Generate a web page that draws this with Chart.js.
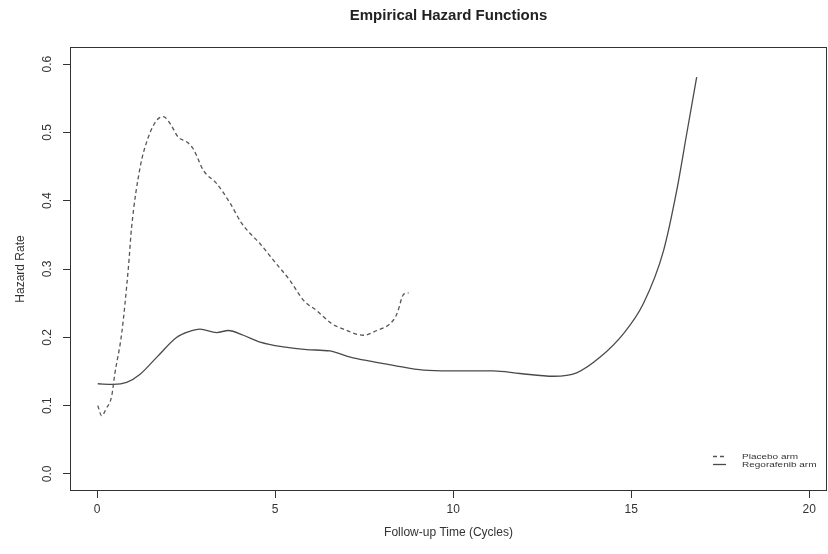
<!DOCTYPE html>
<html>
<head>
<meta charset="utf-8">
<title>Empirical Hazard Functions</title>
<script src="https://cdn.jsdelivr.net/npm/chart.js@4/dist/chart.umd.min.js"></script>
<style>
  body { margin: 0; background: #fff; }
  canvas { display: block; }
</style>
</head>
<body>
<canvas id="hazardChart" width="828" height="554"></canvas>
<script>
// follow-up time (cycles) and smoothed hazard rate, one pair of arrays per arm
const placeboTime = [0.02, 0.13, 0.25, 0.41, 0.5, 0.69, 0.88, 0.97, 1.21, 1.44, 1.68, 1.86, 2.05, 2.28, 2.52, 2.7, 2.99, 3.36, 3.74, 4.06, 4.3, 4.58, 4.95, 5.42, 5.8, 6.17, 6.59, 6.92, 7.48, 7.86, 8.23, 8.42, 8.61, 8.75];
const placeboHazard = [0.100, 0.085, 0.095, 0.114, 0.147, 0.205, 0.302, 0.361, 0.449, 0.493, 0.518, 0.523, 0.513, 0.493, 0.486, 0.476, 0.444, 0.425, 0.396, 0.367, 0.352, 0.337, 0.313, 0.283, 0.254, 0.239, 0.220, 0.212, 0.203, 0.210, 0.220, 0.234, 0.263, 0.265];

const regoTime = [0.02, 0.46, 0.83, 1.21, 1.68, 2.24, 2.56, 2.89, 3.36, 3.69, 4.11, 4.58, 5.23, 5.89, 6.54, 7.11, 7.67, 8.32, 9.17, 9.92, 11.13, 11.88, 12.82, 13.47, 14.13, 14.78, 15.34, 15.91, 16.28, 16.56, 16.84];
const regoHazard = [0.132, 0.131, 0.134, 0.146, 0.171, 0.200, 0.208, 0.212, 0.207, 0.210, 0.203, 0.193, 0.186, 0.182, 0.180, 0.171, 0.165, 0.159, 0.152, 0.151, 0.151, 0.147, 0.143, 0.148, 0.171, 0.205, 0.249, 0.327, 0.415, 0.498, 0.581];

const xTicks = [0, 5, 10, 15, 20];
const yTicks = [0, 0.1, 0.2, 0.3, 0.4, 0.5, 0.6];

const FONT = '"Liberation Sans", Arial, sans-serif';
const INK = '#333';

const toPoints = (xs, ys) => xs.map((x, i) => ({ x, y: ys[i] }));

// box, tick labels, titles and the in-plot legend
const hazardText = {
  id: 'hazardText',
  afterDraw(chart) {
    const { ctx, chartArea: a, scales: { x, y } } = chart;
    ctx.save();
    ctx.strokeStyle = INK;
    ctx.lineWidth = 1;
    ctx.strokeRect(a.left + 0.5, a.top + 0.5, a.right - a.left - 1, a.bottom - a.top - 1);

    ctx.fillStyle = INK;
    ctx.font = '12px ' + FONT;
    ctx.textAlign = 'center';
    ctx.textBaseline = 'top';
    xTicks.forEach(v => ctx.fillText(String(v), x.getPixelForValue(v), a.bottom + 13));

    ctx.textBaseline = 'alphabetic';
    yTicks.forEach(v => {
      ctx.save();
      ctx.translate(a.left - 19, y.getPixelForValue(v));
      ctx.rotate(-Math.PI / 2);
      ctx.fillText(v.toFixed(1), 0, 0);
      ctx.restore();
    });

    ctx.save();
    ctx.translate(24, (a.top + a.bottom) / 2);
    ctx.rotate(-Math.PI / 2);
    ctx.fillText('Hazard Rate', 0, 0);
    ctx.restore();

    ctx.textBaseline = 'middle';
    ctx.fillText('Follow-up Time (Cycles)', (a.left + a.right) / 2, 533);

    ctx.fillStyle = '#222';
    ctx.font = 'bold 15px ' + FONT;
    ctx.fillText('Empirical Hazard Functions', (a.left + a.right) / 2, 16);

    // legend entries take their stroke style from the datasets;
    // the labels are squeezed vertically so the two rows sit close together
    ctx.font = '10px ' + FONT;
    ctx.textAlign = 'left';
    chart.data.datasets.forEach((ds, i) => {
      const ly = 456.5 + i * 8;
      ctx.strokeStyle = ds.borderColor;
      ctx.lineWidth = ds.borderWidth;
      ctx.setLineDash(ds.borderDash || []);
      ctx.beginPath();
      ctx.moveTo(713, ly);
      ctx.lineTo(726, ly);
      ctx.stroke();
      ctx.setLineDash([]);
      ctx.save();
      ctx.translate(742, ly);
      ctx.scale(1, 0.78);
      ctx.fillStyle = INK;
      ctx.fillText(ds.label, 0, 0);
      ctx.restore();
    });
    ctx.restore();
  }
};

new Chart(document.getElementById('hazardChart'), {
  type: 'line',
  data: {
    datasets: [
      {
        label: 'Placebo arm',
        data: toPoints(placeboTime, placeboHazard),
        borderColor: '#555',
        borderWidth: 1.3,
        borderDash: [4, 3],
        pointRadius: 0,
        cubicInterpolationMode: 'monotone',
        fill: false
      },
      {
        label: 'Regorafenib arm',
        data: toPoints(regoTime, regoHazard),
        borderColor: '#4a4a4a',
        borderWidth: 1.3,
        pointRadius: 0,
        cubicInterpolationMode: 'monotone',
        fill: false
      }
    ]
  },
  options: {
    responsive: false,
    animation: false,
    layout: { padding: { top: 47, right: 1, left: 0, bottom: 0 } },
    plugins: { legend: { display: false }, tooltip: { enabled: false }, title: { display: false } },
    scales: {
      x: {
        type: 'linear',
        min: -0.76,
        max: 20.5,
        afterBuildTicks: s => { s.ticks = xTicks.map(value => ({ value })); },
        afterFit: s => { s.height = 63; },
        ticks: { display: false },
        border: { display: false },
        grid: { drawOnChartArea: false, drawTicks: true, tickLength: 7, color: INK }
      },
      y: {
        type: 'linear',
        min: -0.025,
        max: 0.625,
        afterBuildTicks: s => { s.ticks = yTicks.map(value => ({ value })); },
        afterFit: s => { s.width = 70; },
        ticks: { display: false },
        border: { display: false },
        grid: { drawOnChartArea: false, drawTicks: true, tickLength: 7, color: INK }
      }
    }
  },
  plugins: [hazardText]
});
</script>
</body>
</html>
